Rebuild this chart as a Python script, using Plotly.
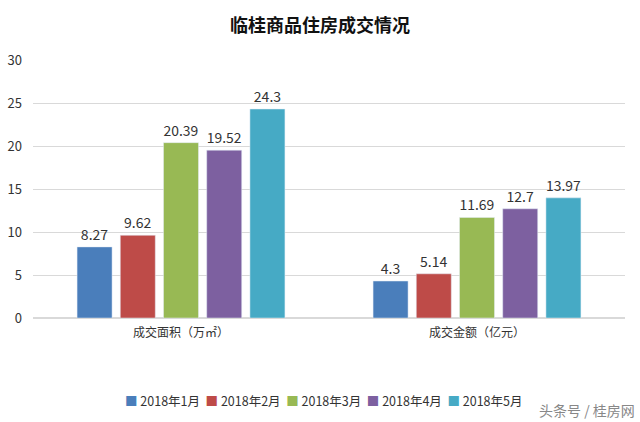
import plotly.graph_objects as go

categories = ["成交面积（万㎡）", "成交金额（亿元）"]
series_names = ["2018年1月", "2018年2月", "2018年3月", "2018年4月", "2018年5月"]
values = [
    [8.27, 4.3],
    [9.62, 5.14],
    [20.39, 11.69],
    [19.52, 12.7],
    [24.3, 13.97],
]
colors = ["#4A7EBB", "#BE4B48", "#98B954", "#7D60A0", "#46AAC5"]
y_ticks = [0, 5, 10, 15, 20, 25, 30]

font = "Microsoft YaHei, Noto Sans CJK SC, sans-serif"

fig = go.Figure()
for name, vals, c in zip(series_names, values, colors):
    fig.add_trace(go.Bar(
        x=categories, y=vals, name=name, marker_color=c,
        text=[str(v) for v in vals], textposition="outside",
        textfont=dict(size=14, color="#333333", family=font),
        cliponaxis=False, showlegend=False,
    ))

fig.update_layout(
    width=640, height=422,
    margin=dict(l=33, r=15, t=60, b=104, autoexpand=False),
    paper_bgcolor="white", plot_bgcolor="white",
    barmode="group", bargap=0.27, bargroupgap=0.19,
    title=dict(text="<b>临桂商品住房成交情况</b>", x=0.5, xanchor="center",
               y=0.94, yanchor="middle",
               font=dict(size=18, color="#111111", family=font)),
    font=dict(family=font, color="#333333"),
    xaxis=dict(tickfont=dict(size=12, color="#333333"), showline=False,
               ticks="", ticklabelstandoff=6, automargin=False),
    yaxis=dict(range=[0, 30], tickvals=y_ticks, showgrid=True,
               gridcolor="#D9D9D9", gridwidth=1, zeroline=True,
               zerolinecolor="#D9D9D9", tickfont=dict(size=13, color="#333333"),
               ticklabelstandoff=10, automargin=False),
    showlegend=False,
)

# legend drawn as a single annotation line
legend_parts = [
    f"<span style='color:{c}'>■</span> {n}" for n, c in zip(series_names, colors)
]
fig.add_annotation(text="  ".join(legend_parts), xref="paper", yref="paper",
                   x=0.49, y=-0.318, xanchor="center", yanchor="middle",
                   showarrow=False, font=dict(size=12.5, color="#333333", family=font))

fig.add_annotation(text="头条号 / 桂房网", xref="paper", yref="paper",
                   x=1.02, y=-0.357, xanchor="right", yanchor="middle",
                   showarrow=False, font=dict(size=14, color="#888888", family=font))

fig.write_html("out.html", config={"displayModeBar": False},
               post_script="document.body.style.margin='0';document.body.style.overflow='hidden';")
